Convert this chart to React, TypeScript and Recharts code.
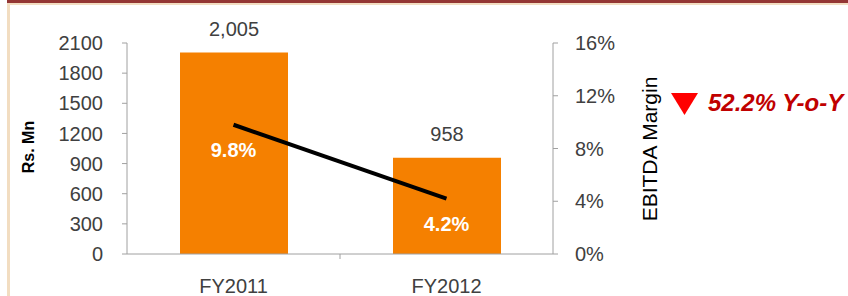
import React from 'react';
import { ComposedChart, Bar, Line, XAxis, YAxis, LabelList } from 'recharts';

const categories = ['FY2011', 'FY2012'];
const ebitdaValues = [2005, 958];
const marginValues = [9.8, 4.2];
const leftTicks = [0, 300, 600, 900, 1200, 1500, 1800, 2100];
const rightTicks = [0, 4, 8, 12, 16];
const yoyText = '52.2% Y-o-Y';

const data = categories.map((c, i) => ({ cat: c, ebitda: ebitdaValues[i], margin: marginValues[i] }));

const FONT = '"Liberation Sans", Arial, sans-serif';
const AXIS = '#A0A0A0';
const TICK = '#404040';

const XTick = (props: any) => {
  const { x, y, payload, index } = props;
  const off = payload && typeof payload.offset === 'number' && payload.offset > 0 ? payload.offset : 106.5;
  return (
    <g>
      {index > 0 && <line x1={x - off} x2={x - off} y1={y} y2={y + 5} stroke={AXIS} strokeWidth={1} />}
      <text x={x} y={y + 39} textAnchor="middle" fill={TICK} fontSize={20} fontFamily={FONT}>
        {payload.value}
      </text>
    </g>
  );
};

const BarLabel = (props: any) => {
  const { x, y, width, value } = props;
  return (
    <text x={Number(x) + Number(width) / 2} y={Number(y) - 17} textAnchor="middle" fill={TICK} fontSize={20} fontFamily={FONT}>
      {Number(value).toLocaleString('en-US')}
    </text>
  );
};

const LineLabel = (props: any) => {
  const { x, y, value } = props;
  return (
    <text x={x} y={Number(y) + 32} textAnchor="middle" fill="#FFFFFF" fontSize={20} fontWeight="bold" fontFamily={FONT}>
      {`${value}%`}
    </text>
  );
};

export default function App() {
  return (
    <div style={{ position: 'absolute', left: 0, top: 0, width: 848, height: 296, background: '#fff', overflow: 'hidden' }}>
      <div style={{ position: 'absolute', left: 7, top: 0, width: 841, height: 2.5, background: '#943634' }} />
      <div style={{ position: 'absolute', left: 7, top: 2.5, width: 841, height: 2.5, background: '#F2DDC1' }} />
      <div style={{ position: 'absolute', left: 7, top: 2.5, width: 2.5, height: 294, background: '#F2DDC1' }} />
      <div style={{ position: 'absolute', left: 0, top: 0 }}>
        <ComposedChart width={848} height={296} data={data} margin={{ top: 43, right: 235, bottom: 12, left: 67 }}>
          <XAxis
            dataKey="cat"
            axisLine={{ stroke: AXIS }}
            tickLine={false}
            tickSize={0}
            tickMargin={0}
            height={30}
            tick={<XTick />}
            interval={0}
          />
          <YAxis
            yAxisId="left"
            domain={[0, 2100]}
            ticks={leftTicks}
            width={60}
            axisLine={{ stroke: AXIS }}
            tickLine={{ stroke: AXIS }}
            tickSize={5}
            tickMargin={19}
            tick={{ fill: TICK, fontSize: 20, fontFamily: FONT }}
            interval={0}
          />
          <YAxis
            yAxisId="right"
            orientation="right"
            domain={[0, 16]}
            ticks={rightTicks}
            width={60}
            axisLine={{ stroke: AXIS }}
            tickLine={{ stroke: AXIS }}
            tickSize={5}
            tickMargin={17}
            tickFormatter={(v: number) => `${v}%`}
            tick={{ fill: TICK, fontSize: 20, fontFamily: FONT, textAnchor: 'start' }}
            interval={0}
          />
          <Bar yAxisId="left" dataKey="ebitda" fill="#F58000" barSize={108} isAnimationActive={false}>
            <LabelList dataKey="ebitda" content={<BarLabel />} />
          </Bar>
          <Line
            yAxisId="right"
            dataKey="margin"
            stroke="#000000"
            strokeWidth={4}
            dot={false}
            activeDot={false}
            isAnimationActive={false}
          >
            <LabelList dataKey="margin" content={<LineLabel />} />
          </Line>
        </ComposedChart>
      </div>
      <svg width={848} height={296} style={{ position: 'absolute', left: 0, top: 0, pointerEvents: 'none' }}>
        <text
          transform="translate(28,147) rotate(-90)"
          textAnchor="middle"
          dominantBaseline="central"
          fontSize={16}
          fontWeight="bold"
          fill="#000"
          fontFamily={FONT}
        >
          Rs. Mn
        </text>
        <text
          transform="translate(649,149) rotate(-90)"
          textAnchor="middle"
          dominantBaseline="central"
          fontSize={21}
          fill="#000"
          fontFamily={FONT}
        >
          EBITDA Margin
        </text>
        <polygon points="671,93 698,93 684.5,115" fill="#FF0000" />
        <text x={708} y={111} fontSize={24} fontWeight="bold" fontStyle="italic" fill="#C00000" fontFamily={FONT}>
          {yoyText}
        </text>
      </svg>
    </div>
  );
}
